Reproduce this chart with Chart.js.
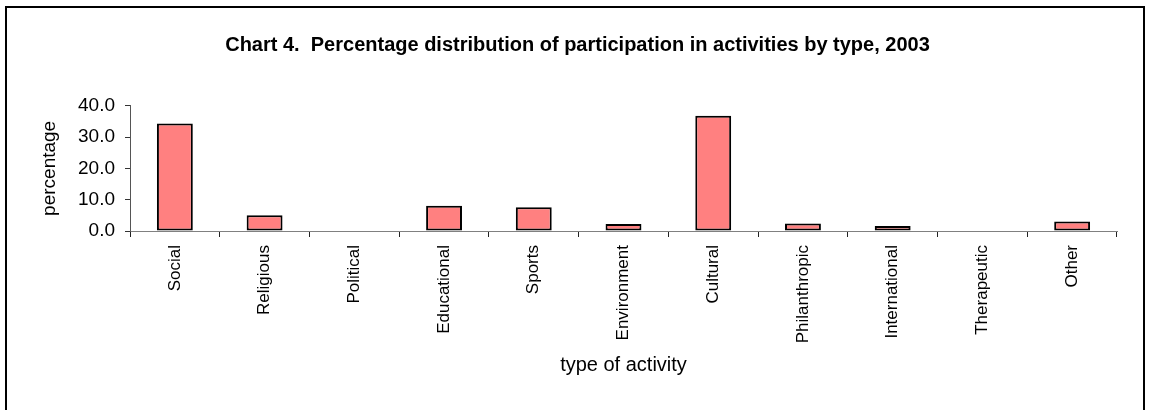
<!DOCTYPE html>
<html>
<head>
<meta charset="utf-8">
<script src="https://cdn.jsdelivr.net/npm/chart.js@4/dist/chart.umd.min.js"></script>
<style>
html,body{margin:0;padding:0;background:#fff;}
#wrap{width:1149px;height:410px;position:relative;}
</style>
</head>
<body>
<div id="wrap"><canvas id="c" width="1149" height="410"></canvas></div>
<script>
const categories = ["Social","Religious","Political","Educational","Sports","Environment","Cultural","Philanthropic","International","Therapeutic","Other"];
const percentages = [34.3, 5.0, 0.0, 8.1, 7.6, 2.2, 36.8, 2.4, 1.6, 0.0, 3.0];
const yTicks = [0, 10, 20, 30, 40];
const chartTitle = "Chart 4.  Percentage distribution of participation in activities by type, 2003";
const xTitle = "type of activity";
const yTitle = "percentage";

const FONT = '"Liberation Sans", Arial, sans-serif';

const framePlugin = {
  id: 'frame',
  beforeDraw(chart) {
    const ctx = chart.ctx;
    ctx.save();
    ctx.fillStyle = '#fff';
    ctx.fillRect(0, 0, chart.width, chart.height);
    ctx.strokeStyle = '#000';
    ctx.lineWidth = 2;
    ctx.strokeRect(6, 7, 1138, 500);
    ctx.restore();
  }
};

new Chart(document.getElementById('c'), {
  type: 'bar',
  data: {
    labels: categories,
    datasets: [{
      data: percentages,
      backgroundColor: '#FF8080',
      borderColor: '#000',
      borderWidth: 2,
      borderSkipped: false,
      barPercentage: 0.4,
      categoryPercentage: 1.0
    }]
  },
  options: {
    responsive: false,
    animation: false,
    devicePixelRatio: 1,
    layout: { padding: { left: 38, right: 32, top: 0, bottom: 33 } },
    plugins: {
      legend: { display: false },
      tooltip: { enabled: false },
      title: {
        display: true,
        text: chartTitle,
        color: '#000',
        font: { family: FONT, size: 20, weight: 'bold', lineHeight: 1.2 },
        padding: { top: 33, bottom: 48.7 }
      }
    },
    scales: {
      x: {
        grid: { display: true, drawOnChartArea: false, drawTicks: true, tickLength: 6, color: '#222', offset: true },
        border: { display: true, color: '#808080', width: 1 },
        ticks: { color: '#000', font: { family: FONT, size: 17 }, minRotation: 90, maxRotation: 90, autoSkip: false, padding: 8 },
        title: { display: true, text: xTitle, color: '#000', font: { family: FONT, size: 20, lineHeight: 1.2 }, padding: 0 },
        afterFit(scale) { scale.height = 146; }
      },
      y: {
        min: 0,
        max: 40,
        afterBuildTicks(scale) { scale.ticks = yTicks.map(v => ({ value: v })); },
        grid: { display: true, drawOnChartArea: false, drawTicks: true, tickLength: 5, color: '#333' },
        border: { display: true, color: '#555', width: 1 },
        ticks: { color: '#000', font: { family: FONT, size: 19 }, padding: 10, callback: v => Number(v).toFixed(1) },
        title: { display: true, text: yTitle, color: '#000', font: { family: FONT, size: 19, lineHeight: 1.2 }, padding: 0 },
        afterFit(scale) { scale.width = 92; }
      }
    }
  },
  plugins: [framePlugin]
});
</script>
</body>
</html>
